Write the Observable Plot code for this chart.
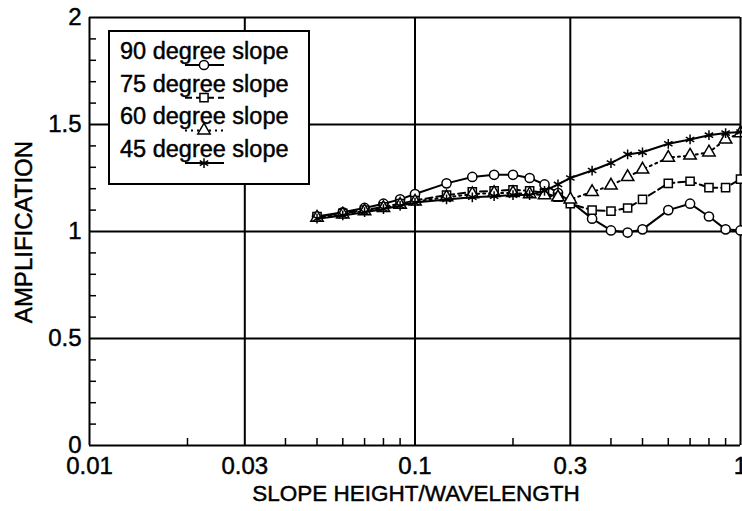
<!DOCTYPE html>
<html>
<head>
<meta charset="utf-8">
<script src="https://cdn.jsdelivr.net/npm/d3@7"></script>
<script src="https://cdn.jsdelivr.net/npm/@observablehq/plot@0.6"></script>
<style>
  body { margin: 0; background: #fff; }
  #chart { width: 742px; height: 511px; overflow: hidden; }
  #chart svg { display: block; }
  #chart svg text { stroke: black; stroke-width: 0.45px; }
</style>
</head>
<body>
<div id="chart"></div>
<script>
// Slope height / wavelength ratios at which amplification was computed
const ratio = [0.05, 0.06, 0.07, 0.08, 0.09, 0.1, 0.125, 0.15, 0.175, 0.2, 0.225, 0.25, 0.275, 0.3,
               0.35, 0.4, 0.45, 0.5, 0.6, 0.7, 0.8, 0.9, 1.0];

// Amplification for each slope angle
const slope90 = [1.07, 1.09, 1.11, 1.13, 1.15, 1.175, 1.225, 1.255, 1.265, 1.265, 1.25, 1.22, 1.18, 1.14,
                 1.06, 1.005, 0.995, 1.01, 1.10, 1.13, 1.07, 1.01, 1.005];
const slope75 = [1.07, 1.085, 1.10, 1.115, 1.13, 1.145, 1.17, 1.185, 1.19, 1.195, 1.19, 1.18, 1.16, 1.13,
                 1.10, 1.095, 1.11, 1.15, 1.225, 1.235, 1.205, 1.205, 1.245];
const slope60 = [1.065, 1.08, 1.095, 1.11, 1.125, 1.14, 1.16, 1.175, 1.18, 1.18, 1.175, 1.17, 1.16, 1.15,
                 1.185, 1.215, 1.255, 1.29, 1.345, 1.355, 1.37, 1.43, 1.46];
const slope45 = [1.06, 1.075, 1.09, 1.105, 1.12, 1.135, 1.15, 1.16, 1.165, 1.17, 1.17, 1.19, 1.22, 1.25,
                 1.285, 1.32, 1.36, 1.37, 1.41, 1.43, 1.45, 1.46, 1.465];

const seriesNames = ["90 degree slope", "75 degree slope", "60 degree slope", "45 degree slope"];

// Axis ticks
const xMajor = [0.01, 0.03, 0.1, 0.3, 1];
const xMinor = [0.02, 0.04, 0.05, 0.06, 0.07, 0.08, 0.09, 0.2, 0.4, 0.5, 0.6, 0.7, 0.8, 0.9];
const yMajor = [0, 0.5, 1, 1.5, 2];
const yMinor = [0.1, 0.2, 0.3, 0.4, 0.6, 0.7, 0.8, 0.9, 1.1, 1.2, 1.3, 1.4, 1.6, 1.7, 1.8, 1.9];

const xLabel = "SLOPE HEIGHT/WAVELENGTH";
const yLabel = "AMPLIFICATION";

// Line and marker style for each series
const styles = [
  {values: slope90, symbol: "circle",   dash: null},
  {values: slope75, symbol: "square",   dash: "7,4"},
  {values: slope60, symbol: "triangle", dash: "2,4"},
  {values: slope45, symbol: "asterisk", dash: null}
];

const FONT = "'Liberation Sans', Arial, Helvetica, sans-serif";
const MARKER_R = 4.6;

const seriesMarks = styles.flatMap((s, k) => {
  const rows = ratio.map((x, i) => ({x, y: s.values[i], name: seriesNames[k]}));
  return [
    Plot.line(rows, {x: "x", y: "y", stroke: "black", strokeWidth: 2, strokeDasharray: s.dash}),
    Plot.dot(rows, {x: "x", y: "y", symbol: () => s.symbol, r: MARKER_R,
                    fill: s.symbol === "asterisk" ? "none" : "white", stroke: "black", strokeWidth: 1.5})
  ];
});

const chart = Plot.plot({
  width: 742,
  height: 511,
  marginLeft: 89,
  marginRight: 2,
  marginTop: 17,
  marginBottom: 66,
  style: {fontFamily: FONT, fontSize: "24px", color: "black", background: "white"},
  x: {type: "log", domain: [0.01, 1]},
  y: {domain: [0, 2]},
  symbol: {type: "identity"},
  marks: [
    Plot.gridX(xMajor, {stroke: "black", strokeOpacity: 1, strokeWidth: 2}),
    Plot.gridY(yMajor, {stroke: "black", strokeOpacity: 1, strokeWidth: 2}),
    Plot.axisX(xMinor, {tickSize: -7, tickFormat: () => "", strokeWidth: 1.5, label: null}),
    Plot.axisY(yMinor, {tickSize: -7, tickFormat: () => "", strokeWidth: 1.5, label: null}),
    Plot.axisX(xMajor, {tickSize: 0, tickPadding: 11, tickFormat: d => String(d), fontSize: 24, label: null}),
    Plot.axisY(yMajor, {tickSize: 0, tickPadding: 8, tickFormat: d => String(d), fontSize: 24, label: null}),
    ...seriesMarks
  ]
});

document.getElementById("chart").appendChild(chart);

// Axis titles and the boxed legend, drawn on top of the plot
const svg = d3.select(chart);
svg.append("text")
  .attr("x", 416).attr("y", 501)
  .attr("text-anchor", "middle")
  .attr("font-family", FONT).attr("font-size", 22.5).attr("fill", "black")
  .text(xLabel);
svg.append("text")
  .attr("transform", "translate(32,232) rotate(-90)")
  .attr("text-anchor", "middle")
  .attr("font-family", FONT).attr("font-size", 24).attr("fill", "black")
  .text(yLabel);

const legend = svg.append("g").attr("transform", "translate(109,31)");
legend.append("rect")
  .attr("width", 200).attr("height", 153)
  .attr("fill", "white").attr("stroke", "black").attr("stroke-width", 2);
const symbolTypes = {circle: d3.symbolCircle, square: d3.symbolSquare, triangle: d3.symbolTriangle, asterisk: d3.symbolAsterisk};
styles.forEach((s, k) => {
  const baseline = 28 + k * 32.7;
  legend.append("text")
    .attr("x", 11).attr("y", baseline)
    .attr("text-anchor", "start")
    .attr("font-family", FONT).attr("font-size", 23.5).attr("fill", "black")
    .text(seriesNames[k]);
  legend.append("line")
    .attr("x1", 76).attr("x2", 115).attr("y1", baseline + 6).attr("y2", baseline + 6)
    .attr("stroke", "black").attr("stroke-width", 2)
    .attr("stroke-dasharray", s.dash);
  legend.append("path")
    .attr("transform", `translate(95,${baseline + 6})`)
    .attr("d", d3.symbol(symbolTypes[s.symbol], Math.PI * MARKER_R * MARKER_R)())
    .attr("fill", s.symbol === "asterisk" ? "none" : "white")
    .attr("stroke", "black").attr("stroke-width", 1.5);
});
</script>
</body>
</html>
